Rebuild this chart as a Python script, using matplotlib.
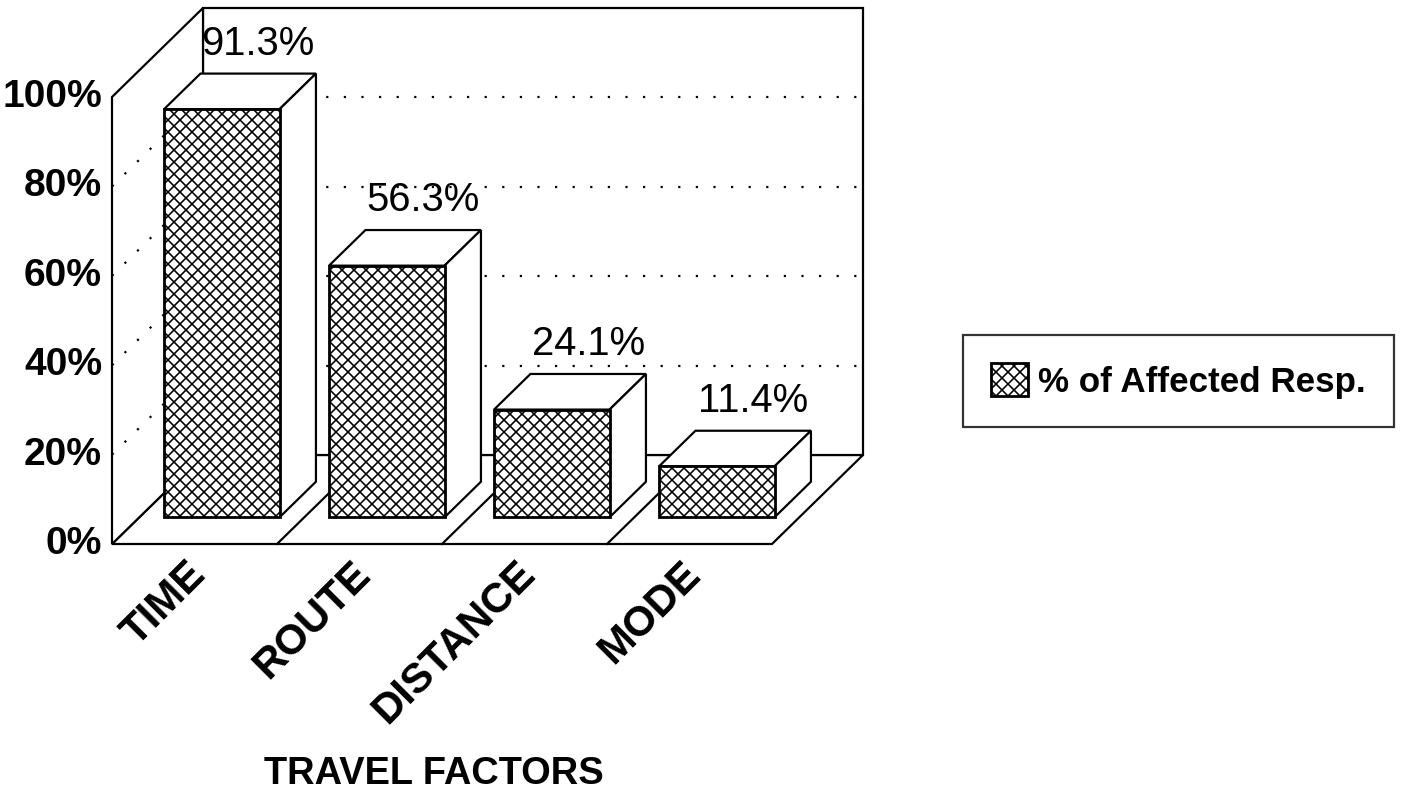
import matplotlib
matplotlib.use("Agg")
import matplotlib.pyplot as plt

categories = ["TIME", "ROUTE", "DISTANCE", "MODE"]
values = [91.3, 56.3, 24.1, 11.4]
value_labels = ["91.3%", "56.3%", "24.1%", "11.4%"]
y_ticks = [0, 20, 40, 60, 80, 100]
y_tick_labels = ["0%", "20%", "40%", "60%", "80%", "100%"]
series_name = "% of Affected Resp."
x_title = "TRAVEL FACTORS"

# layout (pixels of the 1410x803 picture)
W, H, DPI = 1410, 803, 72
X0_PX, Y0_PX = 112, 544      # front-left corner of the floor
SLOT_PX, PCT_PX = 165, 4.47  # one category / one percent
DEPTH_DX = 91 / SLOT_PX      # oblique depth in data units
DEPTH_DY = 89 / PCT_PX
BAR_FRONT, BAR_BACK = 0.3, 0.7
BAR_WIDTH = 0.70
LW = 2.2

plt.rcParams["font.family"] = ["Liberation Sans", "DejaVu Sans"]
plt.rcParams["hatch.linewidth"] = 1.6

fig = plt.figure(figsize=(W / DPI, H / DPI), dpi=DPI)
ax = fig.add_axes([0, 0, 1, 1])
ax.set_xlim(-X0_PX / SLOT_PX, (W - X0_PX) / SLOT_PX)
ax.set_ylim(-(H - Y0_PX) / PCT_PX, Y0_PX / PCT_PX)
ax.axis("off")

n = len(categories)
ymax = y_ticks[-1]
dx, dy = DEPTH_DX, DEPTH_DY

# walls and floor
wall_style = dict(facecolor="white", edgecolor="black", lw=LW, zorder=1)
ax.fill([0, n, n + dx, dx], [0, 0, dy, dy], **wall_style)
ax.fill([dx, n + dx, n + dx, dx], [dy, dy, ymax + dy, ymax + dy], **wall_style)
ax.fill([0, dx, dx, 0], [0, dy, ymax + dy, ymax], **wall_style)
for k in range(1, n):
    ax.plot([k, k + dx], [0, dy], color="black", lw=LW, zorder=1.5)

# dotted grid on back and side walls
for t in y_ticks[1:-1]:
    ax.plot([dx, n + dx], [t + dy, t + dy], color="black", lw=2.2,
            linestyle=(0, (1, 7)), zorder=2)
    ax.plot([0, dx], [t, t + dy], color="black", lw=2.2,
            linestyle=(0, (1, 7)), zorder=2)

# bars: hatched front faces, plain top and side faces
centers = [i + 0.5 + BAR_FRONT * dx for i in range(n)]
base = BAR_FRONT * dy
ddx = (BAR_BACK - BAR_FRONT) * dx
ddy = (BAR_BACK - BAR_FRONT) * dy
bars = ax.bar(centers, values, width=BAR_WIDTH, bottom=base, color="white",
              edgecolor="black", hatch="xx", lw=2.8, zorder=4)
for c, v, lab in zip(centers, values, value_labels):
    left, right, top = c - BAR_WIDTH / 2, c + BAR_WIDTH / 2, base + v
    ax.fill([left, right, right + ddx, left + ddx],
            [top, top, top + ddy, top + ddy],
            facecolor="white", edgecolor="black", lw=LW, zorder=3)
    ax.fill([right, right + ddx, right + ddx, right],
            [base, base + ddy, top + ddy, top],
            facecolor="white", edgecolor="black", lw=LW, zorder=3)
    ax.text(c + ddx, top + ddy + 4.25, lab, ha="center", va="baseline",
            fontsize=40, zorder=5)

# value axis labels
for t, lab in zip(y_ticks, y_tick_labels):
    ax.text(-0.06, t, lab, ha="right", va="center", fontsize=39,
            fontweight="bold")

# category labels
for i, cat in enumerate(categories):
    ax.text(i + 0.53, -5.4, cat, rotation=45, rotation_mode="anchor",
            ha="right", va="center", fontsize=42, fontweight="bold")

ax.text(1.95, -51.5, x_title, ha="center", va="center", fontsize=38,
        fontweight="bold")

leg = ax.legend([bars], [series_name], loc="center left",
                bbox_to_anchor=(963 / W, 1 - 381 / H),
                bbox_transform=fig.transFigure,
                prop={"weight": "bold", "size": 35}, frameon=True,
                fancybox=False, borderpad=0.8, borderaxespad=0,
                handlelength=1.05, handleheight=1.05, handletextpad=0.3)
leg.get_frame().set_edgecolor("black")
leg.get_frame().set_linewidth(LW)

fig.savefig("out.png", dpi=DPI)
